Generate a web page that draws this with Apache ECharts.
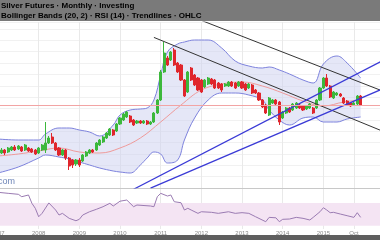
<!DOCTYPE html>
<html><head><meta charset="utf-8">
<script src="https://cdn.jsdelivr.net/npm/echarts@6/dist/echarts.min.js"></script>
<style>html,body{margin:0;padding:0;background:#fff}#c{width:380px;height:240px}</style>
</head><body><div id="c"></div>
<script>
// ---- categories (monthly, Jan 2007 .. Jun 2016) ----
const monthNames = ['Jan','Feb','Mar','Apr','May','Jun','Jul','Aug','Sep','Oct','Nov','Dec'];
const categories = [];
for (let y = 2007; y <= 2016; y++) for (let m = 0; m < 12; m++) if (categories.length < 114) categories.push(monthNames[m] + ' ' + y);
const tickMonths = ['Jan 2007','Jan 2008','Jan 2009','Jan 2010','Jan 2011','Jan 2012','Jan 2013','Jan 2014','Jan 2015','Oct 2015'];
const tickLabels = ['2007','2008','2009','2010','2011','2012','2013','2014','2015','Oct'];

// ---- monthly candles [open, close, low, high] ----
const ohlc = [
[16.5,19,15.5,20],[17.5,19,17,20],[19,17.5,16.5,19.5],[18,20,17.5,20.5],[19,20.5,18.5,21],[20.5,19,18.5,21.5],
[19.5,21,19,21.5],[20.5,18.5,18,21],[19,21.5,18.5,22],[20,18.5,18,20.5],[19.5,18,17.5,20],[19,17,16.5,19.5],
[17.5,20,17,20.5],[19,21.5,18.5,22],[19,22.5,17.5,33],[22.5,25,22,26],[25.5,22.5,22,27.5],[22.5,19,18.5,23],
[20,16.5,16,20.5],[16.5,19,16,19.5],[19,15,14,19.5],[15,11,9,15.5],[14,11.5,10,14.5],[12,14,11,14.5],
[14,11.5,10.5,15],[13.5,16.5,13,17],[16,18,15.5,18.5],[17.5,19,17,19.5],[19,18,17.5,19.5],[19,22.5,18.5,23],
[21.5,24,21,24.5],[23,25.5,22.5,26],[25,27.5,24.5,28],[26.5,29.5,26,30],[29,26.5,26,29.5],[28.5,32,28,32.5],
[32,35,31.5,35.5],[34,37,33.5,37.5],[35.5,38,35,38.5],[36,33,32.5,36.5],[34,31.5,31,34.5],[32.5,33.5,32,34],
[33.5,32.5,32,34],[32.5,33.5,32,34],[33.5,32,31.5,34],[32,33,31.5,33.5],[33,37.5,32.5,38],[37.5,44,37,44.5],
[44,58,43.5,59],[58,67.5,57.5,73],[65,61.5,61,66],[64,68,63.5,68.5],[69,61.5,61,70],[62.5,58,57.5,63],
[61.5,54,53.5,62],[54,46,45.5,54.5],[48,58,47.5,58.5],[60,54,53.5,60.5],[56.5,51.5,51,57],[55,49,48.5,55.5],
[54,48,47.5,54.5],[50.5,54,50,54.5],[52,55,51.5,55.5],[54.5,52,51.5,55],[54,50,49.5,54.5],[52.5,50,49.5,53],
[52,49,48,52.5],[51,52,50.5,52.5],[51,53,50.5,53.5],[53,51,50.5,53.5],[52.5,50,49.5,53],[51,53,50.5,53.5],
[53,50,49.5,53.5],[52,49,48.5,52.5],[50,52,49.5,52.5],[51.5,47.5,47,52],[49,47.5,47,49.5],[47.5,44,43.5,48],
[44,40.5,40,44.5],[41.5,37.5,37,42],[36.5,45,36,45.5],[42.5,44,42,44.5],[44,42,41.5,44.5],[43,33,31.5,43.5],
[35,38,34.5,38.5],[37.5,40,37,40.5],[40,38,37.5,40.5],[39,42,38.5,42.5],[40,42.5,39.5,43],[41.5,40,39.5,42],
[41,39,38.5,41.5],[39.5,41,39,41.5],[40,42,39.5,42.5],[40,37.5,37,40.5],[40,44,39.5,44.5],[44,50,43.5,50.5],
[50,55,49.5,55.5],[55,51,50.5,57],[51,45.5,45,51.5],[45,48,44.5,48.5],[46.5,47.5,46,48],[47,46,45.5,47.5],
[45,42.5,42,45.5],[43.5,41.5,41,44],[42.5,41,40.5,43],[41.5,42.5,41,43],[42,46,41.5,46.5],[46,41.5,41,46.5]
];

// ---- Bollinger bands read at sample months ----
const bandIdx   = [0,6,12,14,18,21,24,27,30,34,36,39,42,44,46,48,50,53,55,58,62,66,70,74,78,80,83,86,90,93,96,100,103,107];
const bandUpper = [24.5,24,24,27,30,30,29,28,26,31.5,36.5,39,39.5,40,44,56.5,68,72,73,74,74,70,63.5,61,60,60.5,59,57,54,52.5,62,66,62.5,55];
const bandLower = [7.5,10.5,15,16.5,15.5,14.5,13,11.5,10,8.5,8,7.5,11.5,15,18,17,12.5,14,24,35,44,47.5,47.5,46.5,44,39,34,31.5,35,35.5,33,33,34.5,35.5];
const midIdx    = [0,6,12,18,24,30,36,42,48,54,60,66,72,78,84,90,96,102,107];
const midValues = [16,17,18.5,20,18,17.5,20,25,33,41.5,49,52,53,51,47.5,43.5,41,43,44];

// ---- RSI read at months ----
const rsiIdx = [0,3,6,7,9,10,11,12,13,15,17,18,19,21,23,24,25,27,29,31,33,34,36,38,40,41,45,46,47,48,50,51,52,54,55,56,57,59,60,63,65,68,70,72,74,76,79,80,82,83,84,86,88,90,92,93,95,96,97,98,99,101,103,105,106,107];
const rsiVal = [88.5,86.7,85,80.8,83.8,69.3,60.6,45.9,51.8,70,57.6,48.9,51.8,43.1,38.9,41.4,48.9,54.6,58.8,63.4,69.3,64.6,73,75,63.4,66.3,64.6,63.4,80.8,86.7,82,83.8,72.1,70.3,57.6,60.6,57.6,51.8,54.6,53.6,51.8,54.6,51.8,53,51.8,45.9,37.2,44.8,44,37.2,41.4,41.9,44.8,43.1,40.2,44.8,54.6,61.6,57.6,52.9,53.6,50.6,47.7,44.8,52.9,44.8];

// ---- trend lines: [monthIndex, value] endpoints ----
const trendBlackUpper = [[55,87.1],[113,48.8]];
const trendBlackLower = [[46,75.3],[113,28.75]];
const trendBlueUpper  = [[40,-0.65],[113,63.25]];
const trendBlueLower  = [[45,-0.05],[113,49.2]];
const refLevel = 41.5;
const rsiBand = [30, 70];

const pair = (idx, vals) => idx.map((k, j) => [k, vals[j]]);
const isTick = (i, v) => tickMonths.indexOf(v) >= 0;

const chart = echarts.init(document.getElementById('c'));
const gridLine = {show: true, interval: isTick, lineStyle: {color: '#e9e9e9', width: 1}};
chart.setOption({
  animation: false,
  backgroundColor: '#fff',
  grid: [
    {left: -2, right: -1, top: 22, bottom: 52, outerBoundsMode: 'none', containLabel: false},
    {left: -2, right: -1, top: 188, bottom: 11, outerBoundsMode: 'none', containLabel: false}
  ],
  xAxis: [
    {type: 'category', gridIndex: 0, data: categories, boundaryGap: false,
     axisLine: {show: true, lineStyle: {color: '#c8c8c8'}}, axisTick: {show: false}, axisLabel: {show: false},
     splitLine: gridLine},
    {type: 'category', gridIndex: 1, data: categories, boundaryGap: false,
     axisLine: {show: false}, axisTick: {show: false},
     axisLabel: {show: true, interval: isTick, fontSize: 6, color: '#8a8a8a', margin: 1, fontFamily: 'Arial',
       formatter: v => tickLabels[tickMonths.indexOf(v)]},
     splitLine: gridLine}
  ],
  yAxis: [
    {type: 'value', gridIndex: 0, min: 0, max: 83, interval: 5.68, axisLine: {show: false}, axisTick: {show: false},
     axisLabel: {show: false}, splitLine: {show: true, lineStyle: {color: '#f1f1f1'}}},
    {type: 'value', gridIndex: 1, min: 24.5, max: 96, axisLine: {show: false}, axisTick: {show: false},
     axisLabel: {show: false}, splitLine: {show: false}}
  ],
  series: [
    {type: 'line', xAxisIndex: 0, yAxisIndex: 0, data: pair(bandIdx, bandLower), stack: 'bb', smooth: 0.4,
     symbol: 'none', lineStyle: {color: '#7d82dc', width: 1}, z: 1},
    {type: 'line', xAxisIndex: 0, yAxisIndex: 0, data: pair(bandIdx, bandUpper.map((u, j) => u - bandLower[j])), stack: 'bb', smooth: 0.4,
     symbol: 'none', lineStyle: {color: '#7d82dc', width: 1}, areaStyle: {color: 'rgba(205,210,240,0.75)'}, z: 1},
    {type: 'line', xAxisIndex: 0, yAxisIndex: 0, data: pair(midIdx, midValues), smooth: 0.4,
     symbol: 'none', lineStyle: {color: '#ee9a9a', width: 1}, z: 2},
    {type: 'candlestick', xAxisIndex: 0, yAxisIndex: 0, data: ohlc, barWidth: 2.6,
     itemStyle: {color: '#3cb83c', color0: '#e0262c', borderColor: '#3cb83c', borderColor0: '#e0262c', borderWidth: 1},
     markLine: {silent: true, symbol: 'none', label: {show: false}, lineStyle: {color: '#f2a4a4', width: 1, type: 'solid'},
       data: [{yAxis: refLevel}]}, z: 3},
    {type: 'line', xAxisIndex: 0, yAxisIndex: 0, data: trendBlackUpper, symbol: 'none', lineStyle: {color: '#333', width: 1}, z: 4},
    {type: 'line', xAxisIndex: 0, yAxisIndex: 0, data: trendBlackLower, symbol: 'none', lineStyle: {color: '#333', width: 1}, z: 4},
    {type: 'line', xAxisIndex: 0, yAxisIndex: 0, data: trendBlueUpper, symbol: 'none', lineStyle: {color: '#3a3ad6', width: 1.2}, z: 4},
    {type: 'line', xAxisIndex: 0, yAxisIndex: 0, data: trendBlueLower, symbol: 'none', lineStyle: {color: '#3a3ad6', width: 1.2}, z: 4},
    {type: 'line', xAxisIndex: 1, yAxisIndex: 1, data: pair(rsiIdx, rsiVal), symbol: 'none',
     lineStyle: {color: '#9a7bb2', width: 1}, z: 3,
     markArea: {silent: true, itemStyle: {color: '#f4e4f3'},
       data: [[{xAxis: categories[0], yAxis: rsiBand[0]}, {xAxis: categories[categories.length - 1], yAxis: rsiBand[1]}]]}}
  ],
  graphic: [
    {type: 'rect', left: 0, top: 0, shape: {width: 380, height: 21}, style: {fill: '#7a7a7a'}, silent: true},
    {type: 'text', left: 1, top: 2, style: {text: 'Silver Futures · Monthly · Investing', fill: '#000', font: 'bold 8px Arial'}},
    {type: 'text', left: 1, top: 12, style: {text: 'Bollinger Bands (20, 2) · RSI (14) · Trendlines · OHLC', fill: '#000', font: 'bold 8px Arial'}},
    {type: 'rect', left: 0, top: 235, shape: {width: 380, height: 5}, style: {fill: '#5e5e5e'}, silent: true},
    {type: 'text', right: 365, top: 177, style: {text: '{a|Investing}{b|.com}', rich: {a: {fill: '#2a2a2a', font: 'bold 9px Arial'}, b: {fill: '#6f86b8', font: '9px Arial'}}}}
  ]
});
</script></body></html>
